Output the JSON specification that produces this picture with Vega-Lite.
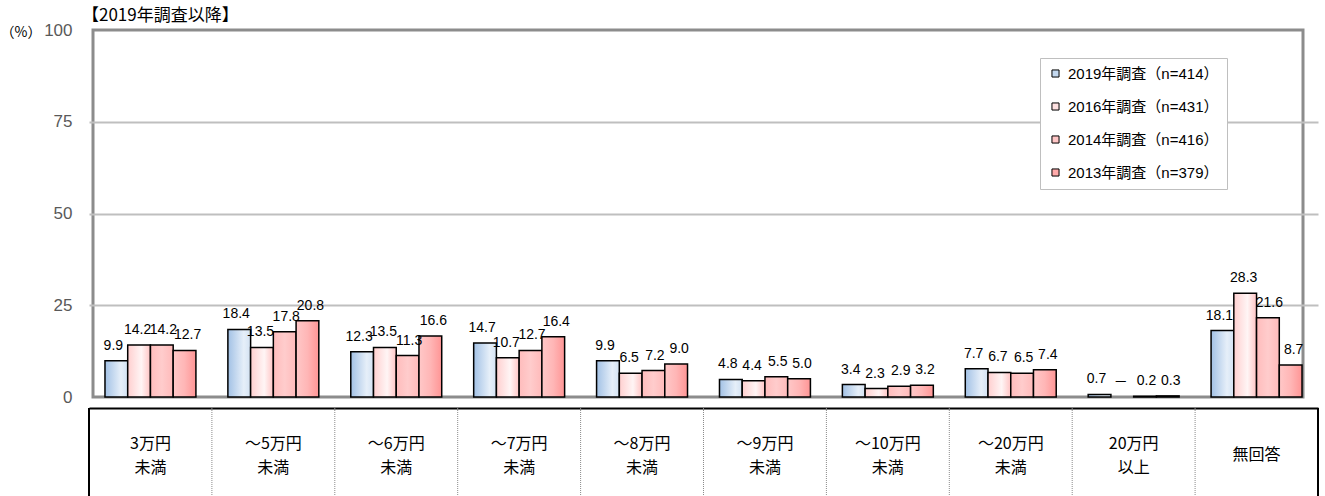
{
  "$schema": "https://vega.github.io/schema/vega-lite/v6.json",
  "width": 1210,
  "height": 367,
  "autosize": {"type": "none"},
  "padding": {"left": 93, "top": 30, "right": 22, "bottom": 99},
  "background": "white",
  "config": {
    "view": {"stroke": "#8c8c8c", "strokeWidth": 3},
    "font": "Liberation Sans, Noto Sans CJK JP"
  },
  "title": {
    "text": "【2019年調査以降】",
    "anchor": "start",
    "frame": "group",
    "font": "Noto Sans CJK JP",
    "fontSize": 17,
    "fontWeight": "normal",
    "color": "black",
    "offset": -4,
    "dx": -11
  },
  "data": {
    "values": [
      {"cat": "3万円 未満", "year": "2019年調査（n=414）", "value": 9.9, "label": "9.9"},
      {"cat": "3万円 未満", "year": "2016年調査（n=431）", "value": 14.2, "label": "14.2"},
      {"cat": "3万円 未満", "year": "2014年調査（n=416）", "value": 14.2, "label": "14.2"},
      {"cat": "3万円 未満", "year": "2013年調査（n=379）", "value": 12.7, "label": "12.7"},
      {"cat": "～5万円 未満", "year": "2019年調査（n=414）", "value": 18.4, "label": "18.4"},
      {"cat": "～5万円 未満", "year": "2016年調査（n=431）", "value": 13.5, "label": "13.5"},
      {"cat": "～5万円 未満", "year": "2014年調査（n=416）", "value": 17.8, "label": "17.8"},
      {"cat": "～5万円 未満", "year": "2013年調査（n=379）", "value": 20.8, "label": "20.8"},
      {"cat": "～6万円 未満", "year": "2019年調査（n=414）", "value": 12.3, "label": "12.3"},
      {"cat": "～6万円 未満", "year": "2016年調査（n=431）", "value": 13.5, "label": "13.5"},
      {"cat": "～6万円 未満", "year": "2014年調査（n=416）", "value": 11.3, "label": "11.3"},
      {"cat": "～6万円 未満", "year": "2013年調査（n=379）", "value": 16.6, "label": "16.6"},
      {"cat": "～7万円 未満", "year": "2019年調査（n=414）", "value": 14.7, "label": "14.7"},
      {"cat": "～7万円 未満", "year": "2016年調査（n=431）", "value": 10.7, "label": "10.7"},
      {"cat": "～7万円 未満", "year": "2014年調査（n=416）", "value": 12.7, "label": "12.7"},
      {"cat": "～7万円 未満", "year": "2013年調査（n=379）", "value": 16.4, "label": "16.4"},
      {"cat": "～8万円 未満", "year": "2019年調査（n=414）", "value": 9.9, "label": "9.9"},
      {"cat": "～8万円 未満", "year": "2016年調査（n=431）", "value": 6.5, "label": "6.5"},
      {"cat": "～8万円 未満", "year": "2014年調査（n=416）", "value": 7.2, "label": "7.2"},
      {"cat": "～8万円 未満", "year": "2013年調査（n=379）", "value": 9.0, "label": "9.0"},
      {"cat": "～9万円 未満", "year": "2019年調査（n=414）", "value": 4.8, "label": "4.8"},
      {"cat": "～9万円 未満", "year": "2016年調査（n=431）", "value": 4.4, "label": "4.4"},
      {"cat": "～9万円 未満", "year": "2014年調査（n=416）", "value": 5.5, "label": "5.5"},
      {"cat": "～9万円 未満", "year": "2013年調査（n=379）", "value": 5.0, "label": "5.0"},
      {"cat": "～10万円 未満", "year": "2019年調査（n=414）", "value": 3.4, "label": "3.4"},
      {"cat": "～10万円 未満", "year": "2016年調査（n=431）", "value": 2.3, "label": "2.3"},
      {"cat": "～10万円 未満", "year": "2014年調査（n=416）", "value": 2.9, "label": "2.9"},
      {"cat": "～10万円 未満", "year": "2013年調査（n=379）", "value": 3.2, "label": "3.2"},
      {"cat": "～20万円 未満", "year": "2019年調査（n=414）", "value": 7.7, "label": "7.7"},
      {"cat": "～20万円 未満", "year": "2016年調査（n=431）", "value": 6.7, "label": "6.7"},
      {"cat": "～20万円 未満", "year": "2014年調査（n=416）", "value": 6.5, "label": "6.5"},
      {"cat": "～20万円 未満", "year": "2013年調査（n=379）", "value": 7.4, "label": "7.4"},
      {"cat": "20万円 以上", "year": "2019年調査（n=414）", "value": 0.7, "label": "0.7"},
      {"cat": "20万円 以上", "year": "2016年調査（n=431）", "value": 0, "label": "－"},
      {"cat": "20万円 以上", "year": "2014年調査（n=416）", "value": 0.2, "label": "0.2"},
      {"cat": "20万円 以上", "year": "2013年調査（n=379）", "value": 0.3, "label": "0.3"},
      {"cat": "無回答", "year": "2019年調査（n=414）", "value": 18.1, "label": "18.1"},
      {"cat": "無回答", "year": "2016年調査（n=431）", "value": 28.3, "label": "28.3"},
      {"cat": "無回答", "year": "2014年調査（n=416）", "value": 21.6, "label": "21.6"},
      {"cat": "無回答", "year": "2013年調査（n=379）", "value": 8.7, "label": "8.7"}
    ]
  },
  "encoding": {
    "x": {
      "field": "cat",
      "type": "nominal",
      "scale": {
        "domain": ["3万円 未満", "～5万円 未満", "～6万円 未満", "～7万円 未満", "～8万円 未満", "～9万円 未満", "～10万円 未満", "～20万円 未満", "20万円 以上", "無回答"],
        "range": [-4, 1225],
        "paddingInner": 0.26,
        "paddingOuter": 0.13
      },
      "axis": {
        "title": null,
        "orient": "bottom",
        "offset": 11,
        "domainColor": "black",
        "domainWidth": 2,
        "ticks": false,
        "tickSize": 0,
        "grid": false,
        "labelAngle": 0,
        "labelPadding": {"condition": {"test": "datum.value == '無回答'", "value": 46}, "value": 35},
        "labelBaseline": "middle",
        "labelFont": "Noto Sans CJK JP",
        "labelFontSize": 16,
        "labelColor": "black",
        "labelLineHeight": 24,
        "labelExpr": "split(datum.label, ' ')"
      }
    },
    "xOffset": {
      "field": "year",
      "type": "nominal",
      "scale": {
        "domain": ["2019年調査（n=414）", "2016年調査（n=431）", "2014年調査（n=416）", "2013年調査（n=379）"],
        "paddingInner": 0,
        "paddingOuter": 0
      }
    },
    "y": {
      "field": "value",
      "type": "quantitative",
      "scale": {"domain": [0, 100], "nice": false, "clamp": false},
      "axis": {
        "values": [0, 25, 50, 75, 100],
        "title": "（%）",
        "titleAngle": 0,
        "titleAlign": "left",
        "titleBaseline": "middle",
        "titleX": -93,
        "titleY": 2,
        "titleFont": "Noto Sans CJK JP",
        "titleFontSize": 14,
        "titleFontWeight": "normal",
        "titleColor": "black",
        "domain": false,
        "ticks": false,
        "tickSize": 0,
        "labelPadding": 21,
        "labelFontSize": 17,
        "labelColor": "#595959",
        "labelFont": "Liberation Sans",
        "grid": true,
        "gridColor": {"condition": {"test": "datum.value == 0 || datum.value == 100", "value": "transparent"}, "value": "#bfbfbf"},
        "gridWidth": 2
      }
    }
  },
  "layer": [
    {
      "transform": [{"filter": "datum.year == '2019年調査（n=414）' && datum.cat != '3万円 未満'"}],
      "mark": {"type": "rule", "color": "#8a8a8a", "strokeWidth": 1, "strokeDash": [1, 1]},
      "encoding": {
        "x": {"field": "cat", "type": "nominal", "bandPosition": -0.17568},
        "xOffset": null,
        "y": {"datum": -3},
        "y2": {"datum": -40}
      }
    },
    {
      "transform": [{"filter": "datum.year == '2019年調査（n=414）' && datum.cat == '3万円 未満'"}],
      "mark": {"type": "rule", "color": "black", "strokeWidth": 2},
      "encoding": {
        "x": {"field": "cat", "type": "nominal", "bandPosition": -0.17568},
        "xOffset": null,
        "y": {"datum": -3},
        "y2": {"datum": -40}
      }
    },
    {
      "transform": [{"filter": "datum.year == '2019年調査（n=414）' && datum.cat == '無回答'"}],
      "mark": {"type": "rule", "color": "black", "strokeWidth": 2},
      "encoding": {
        "x": {"field": "cat", "type": "nominal", "bandPosition": 1.17568},
        "xOffset": null,
        "y": {"datum": -3},
        "y2": {"datum": -40}
      }
    },
    {
      "transform": [{"filter": "datum.year == '2019年調査（n=414）' && datum.value > 0"}],
      "mark": {
        "type": "bar",
        "stroke": "black",
        "strokeWidth": 1.5,
        "fill": {"gradient": "linear", "x1": 0, "y1": 0, "x2": 1, "y2": 0,
          "stops": [{"offset": 0, "color": "#a2c1e5"}, {"offset": 0.7, "color": "#e6eff9"}, {"offset": 1, "color": "#d3e2f3"}]}
      }
    },
    {
      "transform": [{"filter": "datum.year == '2016年調査（n=431）' && datum.value > 0"}],
      "mark": {
        "type": "bar",
        "stroke": "black",
        "strokeWidth": 1.5,
        "fill": {"gradient": "linear", "x1": 0, "y1": 0, "x2": 1, "y2": 0,
          "stops": [{"offset": 0, "color": "#ffcfcf"}, {"offset": 0.6, "color": "#fff5f5"}, {"offset": 1, "color": "#ffc4c4"}]}
      }
    },
    {
      "transform": [{"filter": "datum.year == '2014年調査（n=416）' && datum.value > 0"}],
      "mark": {
        "type": "bar",
        "stroke": "black",
        "strokeWidth": 1.5,
        "fill": {"gradient": "linear", "x1": 0, "y1": 0, "x2": 1, "y2": 0,
          "stops": [{"offset": 0, "color": "#ffbcbc"}, {"offset": 0.5, "color": "#ffcccc"}, {"offset": 1, "color": "#ffbaba"}]}
      }
    },
    {
      "transform": [{"filter": "datum.year == '2013年調査（n=379）' && datum.value > 0"}],
      "mark": {
        "type": "bar",
        "stroke": "black",
        "strokeWidth": 1.5,
        "fill": {"gradient": "linear", "x1": 0, "y1": 0, "x2": 1, "y2": 0,
          "stops": [{"offset": 0, "color": "#ffc8c8"}, {"offset": 0.5, "color": "#ffb6b6"}, {"offset": 1, "color": "#ff9595"}]}
      }
    },
    {
      "transform": [{"filter": "datum.year == '2019年調査（n=414）'"}],
      "mark": {"type": "text", "baseline": "bottom", "dy": -8, "dx": -3, "fontSize": 14, "font": "Liberation Sans, Noto Sans CJK JP", "color": "black"},
      "encoding": {"text": {"field": "label", "type": "nominal"}}
    },
    {
      "transform": [{"filter": "datum.year == '2016年調査（n=431）'"}],
      "mark": {"type": "text", "baseline": "bottom", "dy": -8, "dx": -1.5, "fontSize": 14, "font": "Liberation Sans, Noto Sans CJK JP", "color": "black"},
      "encoding": {"text": {"field": "label", "type": "nominal"}}
    },
    {
      "transform": [{"filter": "datum.year == '2014年調査（n=416）'"}],
      "mark": {"type": "text", "baseline": "bottom", "dy": -8, "dx": 1.5, "fontSize": 14, "font": "Liberation Sans, Noto Sans CJK JP", "color": "black"},
      "encoding": {"text": {"field": "label", "type": "nominal"}}
    },
    {
      "transform": [{"filter": "datum.year == '2013年調査（n=379）'"}],
      "mark": {"type": "text", "baseline": "bottom", "dy": -8, "dx": 3, "fontSize": 14, "font": "Liberation Sans, Noto Sans CJK JP", "color": "black"},
      "encoding": {"text": {"field": "label", "type": "nominal"}}
    },
    {
      "mark": {"type": "square", "opacity": 0, "size": 1},
      "encoding": {
        "color": {
          "field": "year",
          "type": "nominal",
          "scale": {
            "domain": ["2019年調査（n=414）", "2016年調査（n=431）", "2014年調査（n=416）", "2013年調査（n=379）"],
            "range": ["#c3d8ef", "#ffe2e2", "#ffc6c6", "#ffaaaa"]
          },
          "legend": {
            "orient": "none",
            "legendX": 947,
            "legendY": 28,
            "title": null,
            "symbolType": "square",
            "symbolSize": 50,
            "symbolOpacity": 1,
            "symbolStrokeColor": "black",
            "symbolStrokeWidth": 1,
            "labelFont": "Liberation Sans, Noto Sans CJK JP",
            "labelFontSize": 15,
            "labelColor": "black",
            "labelOffset": 5,
            "labelLimit": 300,
            "rowPadding": 17,
            "padding": 8,
            "strokeColor": "#bfbfbf",
            "fillColor": "white"
          }
        }
      }
    }
  ]
}
